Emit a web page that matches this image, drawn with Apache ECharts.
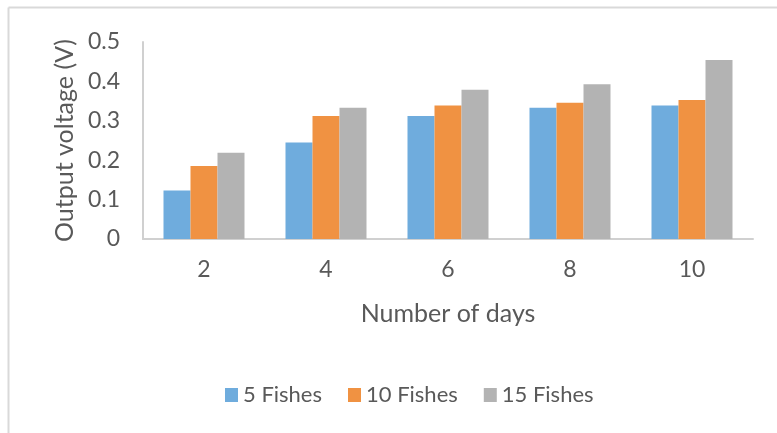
<!DOCTYPE html>
<html>
<head>
<meta charset="utf-8">
<script src="https://cdn.jsdelivr.net/npm/echarts@6/dist/echarts.min.js"></script>
<style>
  html, body { margin: 0; padding: 0; background: #fff; }
  #myChart { width: 777px; height: 433px; }
</style>
</head>
<body>
<div id="myChart"></div>
<script>
// data
var days = ['2', '4', '6', '8', '10']
var fish5 = [0.123, 0.245, 0.312, 0.333, 0.339]
var fish10 = [0.185, 0.312, 0.339, 0.346, 0.353]
var fish15 = [0.219, 0.333, 0.379, 0.393, 0.454]
var seriesNames = ['5 Fishes', '10 Fishes', '15 Fishes']

var font = 'Lato, "Open Sans", sans-serif'
var textColor = '#595959'

var myChart = echarts.init(document.getElementById('myChart'))
myChart.setOption({
  animation: false,
  color: ['#6FACDD', '#F09242', '#B3B3B3'],
  textStyle: { fontFamily: font },
  // light frame round the chart
  graphic: [
    { type: 'line', shape: { x1: 8.5, y1: 7.5, x2: 777, y2: 7.5 }, style: { stroke: '#d9d9d9', lineWidth: 2 } },
    { type: 'line', shape: { x1: 8.5, y1: 7.5, x2: 8.5, y2: 433 }, style: { stroke: '#d9d9d9', lineWidth: 2 } }
  ],
  grid: {
    left: 143,
    right: 24,
    top: 42,
    bottom: 194
  },
  legend: {
    data: seriesNames,
    left: 220,
    top: 379,
    itemWidth: 13,
    itemHeight: 14,
    itemGap: 26,
    icon: 'rect',
    textStyle: { fontSize: 22, color: textColor, fontFamily: font }
  },
  xAxis: {
    type: 'category',
    data: days,
    name: 'Number of days',
    nameLocation: 'middle',
    nameGap: 62,
    nameTextStyle: { fontSize: 25, color: textColor, fontFamily: font },
    axisLine: { lineStyle: { color: '#d0d0d0', width: 2 } },
    axisTick: { show: false },
    axisLabel: { fontSize: 23, color: textColor, margin: 19, fontFamily: font }
  },
  yAxis: {
    type: 'value',
    min: 0,
    max: 0.5,
    interval: 0.1,
    name: 'Output voltage (V)',
    nameLocation: 'middle',
    nameGap: 51,
    nameTextStyle: { fontSize: 25, color: textColor, fontFamily: font },
    axisLine: { show: true, lineStyle: { color: '#d0d0d0', width: 2 } },
    axisTick: { show: false },
    splitLine: { show: false },
    axisLabel: { fontSize: 23, color: textColor, margin: 23, fontFamily: font }
  },
  series: [
    { name: seriesNames[0], type: 'bar', data: fish5, barWidth: 27, barGap: '0%' },
    { name: seriesNames[1], type: 'bar', data: fish10, barWidth: 27, barGap: '0%' },
    { name: seriesNames[2], type: 'bar', data: fish15, barWidth: 27, barGap: '0%' }
  ]
})
</script>
</body>
</html>
